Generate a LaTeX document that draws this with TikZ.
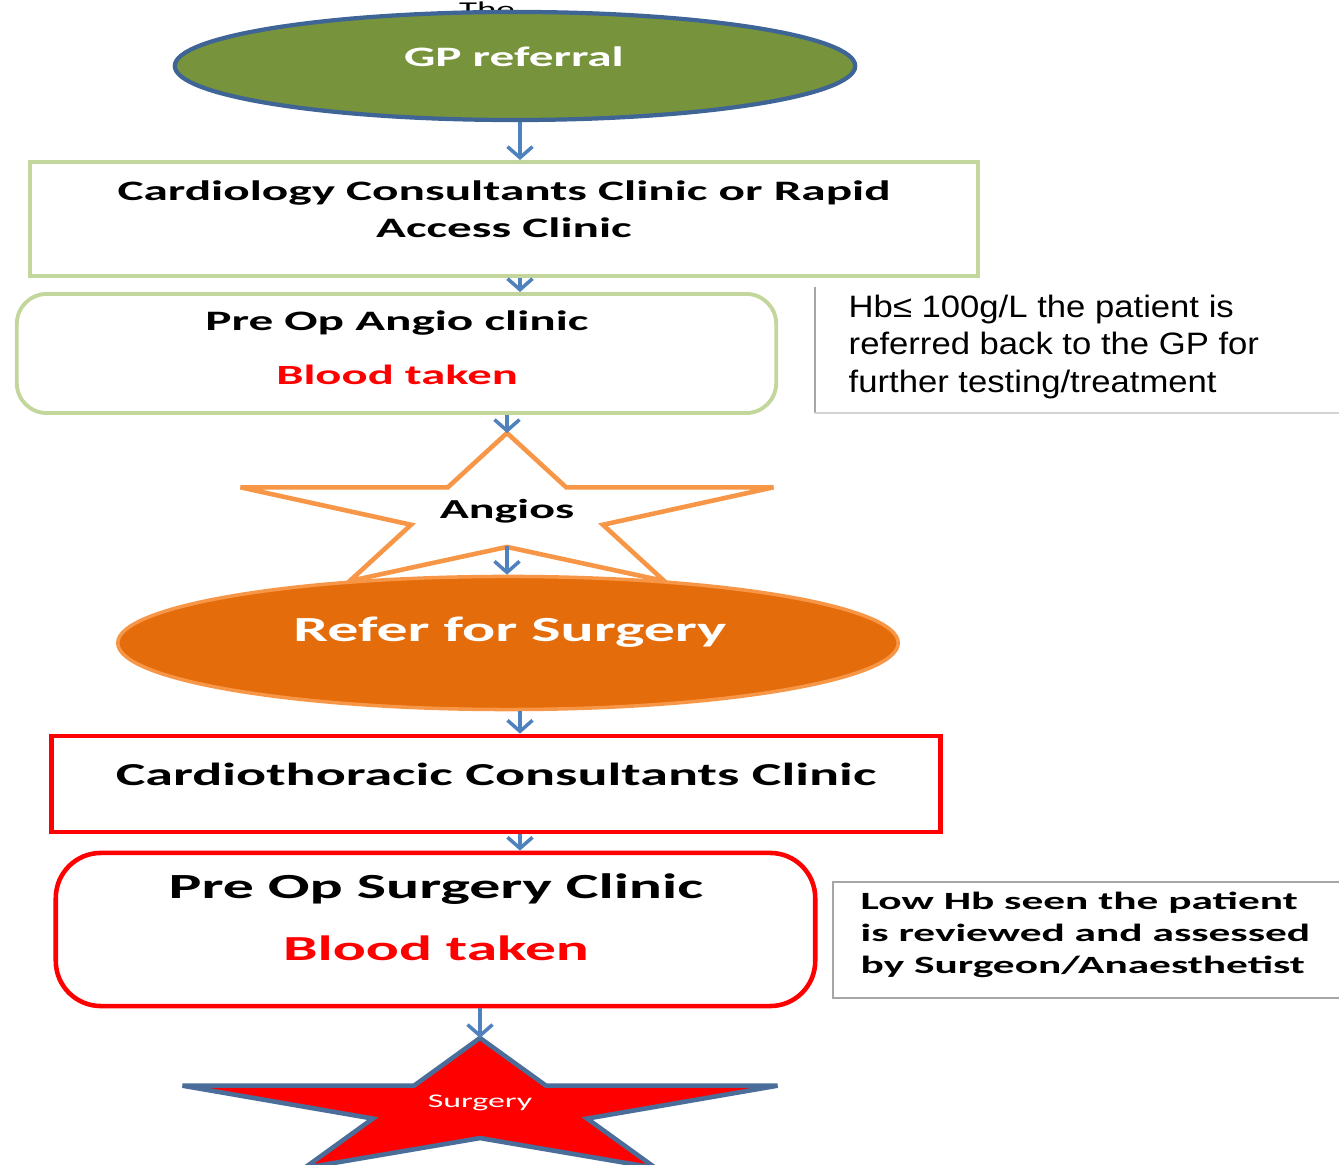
\documentclass[tikz,border=0pt]{standalone}
\usepackage{fontspec}
\usetikzlibrary{shapes.geometric,arrows.meta}
\newfontfamily\flowfont{Carlito}[FakeStretch=1.75]
\newfontfamily\notefont{Liberation Sans}[FakeStretch=1.12]
\definecolor{arrowBlue}{HTML}{4F81BD}
\definecolor{gpGreen}{HTML}{77933C}
\definecolor{gpBorder}{HTML}{3F6496}
\definecolor{boxGreen}{HTML}{C3D69B}
\definecolor{starOrange}{HTML}{F79646}
\definecolor{referOrange}{HTML}{E46C0A}
\definecolor{noteGray}{HTML}{A6A6A6}
\definecolor{starBlue}{HTML}{4A6D99}
\newcommand{\flowStar}[5]{
	\draw[#5, miter limit=4, shift={(#1,#2)}, xscale=#3, yscale=#4] (0,0) -- (.222,.367) -- (1,.367) -- (.36,.62) -- (.59,1) -- (0,.77) -- (-.59,1) -- (-.36,.62) -- (-1,.367) -- (-.222,.367) -- cycle;
}
\tikzset{
	flowArrow/.style={arrowBlue, line width=1pt, -{Straight Barb[length=1.1mm, width=2.5mm, line width=1pt]}},
	flowText/.style={font=\flowfont\bfseries, inner sep=0pt, align=center},
	noteText/.style={font=\notefont\fontsize{8.8}{10.8}\selectfont, inner sep=0pt, align=left, anchor=west}
}
\begin{document}
\begin{tikzpicture}[x=0.01cm, y=-0.01cm]
		\useasboundingbox (0,0) rectangle (1339,1165);
		\clip (0,0) rectangle (1339,1165);
		\coordinate (spine) at (520,0);
		\coordinate (angiosTop) at (507,433);
		\coordinate (surgeryTop) at (480,1038);

		% Draw top of the flow
		\node[font=\flowfont\fontsize{6}{7}\selectfont] (stray) at (487,9) {The};
		\node[ellipse, draw=gpBorder, line width=1.2pt, fill=gpGreen, minimum width=6.8cm, minimum height=1.08cm] (gp) at (515,66) {};
		\node[flowText, white, font=\flowfont\bfseries\fontsize{8}{10.5}\selectfont] (gpText) at (514,57) {GP referral};

		\node[draw=boxGreen, line width=1.1pt, minimum width=9.48cm, minimum height=1.14cm] (cardio) at (504,219) {};
		\node[flowText, font=\flowfont\bfseries\fontsize{8}{10.5}\selectfont] (cardioText) at (504,209) {Cardiology Consultants Clinic or Rapid\\Access Clinic};

		\node[draw=boxGreen, line width=1.1pt, rounded corners=.3cm, minimum width=7.59cm, minimum height=1.19cm] (angioClinic) at (396.5,353.5) {};
		\node[flowText, font=\flowfont\bfseries\fontsize{8}{10.5}\selectfont] (angioClinicText) at (397,323) {Pre Op Angio clinic};
		\node[flowText, red, font=\flowfont\bfseries\fontsize{7.9}{10.5}\selectfont] (angioBlood) at (397,375) {Blood taken};

		% Draw first note
		\draw[noteGray, line width=.6pt] (815,287) coordinate (hbTop) -- (815,413) coordinate (hbCorner);
		\draw[noteGray!50, line width=.5pt] (hbCorner) -- (1345,413);
		\node[noteText] (hbNote) at (848,347) {Hb≤ 100g/L the patient is\\referred back to the GP for\\further testing/treatment};

		% Draw angios star and referral
		\flowStar{507}{433}{266.5}{148}{draw=starOrange, line width=1.3pt, fill=white}
		\node[flowText, minimum height=.68cm, font=\flowfont\bfseries\fontsize{7.8}{10}\selectfont] (angios) at (507,511) {Angios};

		\node[ellipse, draw=starOrange, line width=1pt, fill=referOrange, minimum width=7.8cm, minimum height=1.33cm] (refer) at (508,643) {};
		\node[flowText, white, font=\flowfont\bfseries\fontsize{10.05}{11}\selectfont] (referText) at (510,632) {Refer for Surgery};

		% Draw surgical side
		\node[draw=red, line width=1.3pt, minimum width=8.88cm, minimum height=.96cm] (thoracic) at (496,784) {};
		\node[flowText, font=\flowfont\bfseries\fontsize{9.1}{10}\selectfont] (thoracicText) at (496,774) {Cardiothoracic Consultants Clinic};

		\node[draw=red, line width=1.3pt, rounded corners=.45cm, minimum width=7.59cm, minimum height=1.53cm] (surgeryClinic) at (435.5,929.5) {};
		\node[flowText, font=\flowfont\bfseries\fontsize{10.05}{11}\selectfont] (surgeryClinicText) at (436,889) {Pre Op Surgery Clinic};
		\node[flowText, red, font=\flowfont\bfseries\fontsize{10}{11}\selectfont] (surgeryBlood) at (436,948) {Blood taken};

		\node[draw=noteGray, line width=.6pt, minimum width=5.12cm, minimum height=1.16cm] (lowHb) at (1089,940) {};
		\node[flowText, align=left, anchor=west, font=\flowfont\bfseries\fontsize{7.05}{9}\selectfont] (lowHbText) at (860,935) {Low Hb seen the patient\\is reviewed and assessed\\by Surgeon/Anaesthetist};

		\flowStar{480}{1038}{297.5}{130}{draw=starBlue, line width=1.3pt, fill=red}
		\node[flowText, white, font=\flowfont\fontsize{5.5}{6}\selectfont] (surgery) at (480,1103) {Surgery};

		% Draw arrows
		\draw[flowArrow] (gp.south -| spine) -- (cardio.north -| spine);
		\draw[flowArrow] (cardio.south -| spine) -- (angioClinic.north -| spine);
		\draw[flowArrow] (angioClinic.south -| angiosTop) -- (angiosTop);
		\draw[flowArrow] (angios.south) -- (angios.south |- refer.north);
		\draw[flowArrow] (refer.south -| spine) -- (thoracic.north -| spine);
		\draw[flowArrow] (thoracic.south -| spine) -- (surgeryClinic.north -| spine);
		\draw[flowArrow] (surgeryClinic.south -| surgeryTop) -- (surgeryTop);
	\end{tikzpicture}
\end{document}
